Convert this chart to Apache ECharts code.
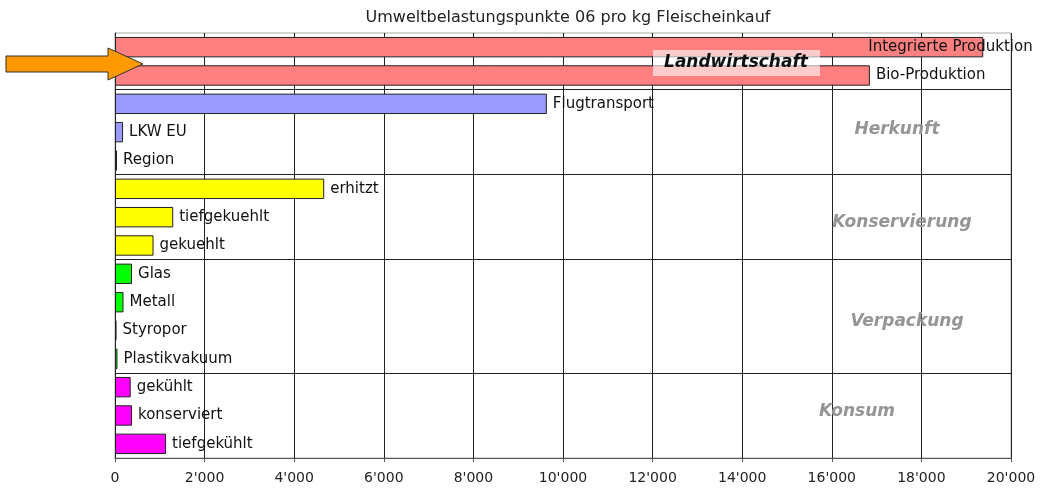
<!DOCTYPE html>
<html>
<head>
<meta charset="utf-8">
<script src="https://cdn.jsdelivr.net/npm/echarts@6/dist/echarts.min.js"></script>
<style>
  html, body { margin: 0; padding: 0; background: #fff; }
  #chart { width: 1042px; height: 489px; }
</style>
</head>
<body>
<div id="chart"></div>
<script>
// Kategorien (oben nach unten)
const categories = [
  'Integrierte Produktion', 'Bio-Produktion',
  'Flugtransport', 'LKW EU', 'Region',
  'erhitzt', 'tiefgekuehlt', 'gekuehlt',
  'Glas', 'Metall', 'Styropor', 'Plastikvakuum',
  'gekühlt', 'konserviert', 'tiefgekühlt'
];
// Umweltbelastungspunkte pro kg
const values = [
  19380, 16850,
  9640, 180, 45,
  4670, 1300, 860,
  380, 190, 35, 55,
  350, 380, 1140
];
// Gruppe je Kategorie
const groups = [
  'Landwirtschaft', 'Landwirtschaft',
  'Herkunft', 'Herkunft', 'Herkunft',
  'Konservierung', 'Konservierung', 'Konservierung',
  'Verpackung', 'Verpackung', 'Verpackung', 'Verpackung',
  'Konsum', 'Konsum', 'Konsum'
];
const xTicks = [0, 2000, 4000, 6000, 8000, 10000, 12000, 14000, 16000, 18000, 20000];

const groupColors = {
  Landwirtschaft: '#FF8080',
  Herkunft: '#9999FF',
  Konservierung: '#FFFF00',
  Verpackung: '#00FF00',
  Konsum: '#FF00FF'
};

// Trennlinien vor dem ersten Eintrag jeder Gruppe (ausser der ersten)
const groupStarts = [];
for (let i = 1; i < groups.length; i++) {
  if (groups[i] !== groups[i - 1]) groupStarts.push(i);
}

const FONT = '"DejaVu Sans", "Liberation Sans", sans-serif';

const chart = echarts.init(document.getElementById('chart'));

const barData = values.map((v, i) => {
  const item = {
    value: v,
    itemStyle: { color: groupColors[groups[i]] }
  };
  // Beschriftung des längsten Balkens wird ins Diagramm zurückgeschoben
  if (i === 0) {
    item.label = { offset: [-121, 0] };
  }
  return item;
});

const groupLabel = (text, x, y) => ({
  type: 'text',
  x: x,
  y: y,
  z: 100,
  style: {
    text: text,
    fill: '#959595',
    font: 'italic bold 17px ' + FONT,
    align: 'center',
    verticalAlign: 'middle'
  }
});

const option = {
  backgroundColor: '#fff',
  animation: false,
  title: {
    text: 'Umweltbelastungspunkte 06 pro kg Fleischeinkauf',
    left: 563,
    textAlign: 'center',
    top: 5,
    textStyle: {
      fontFamily: FONT,
      fontSize: 16,
      fontWeight: 'normal',
      color: '#222'
    }
  },
  grid: {
    left: 115,
    right: 31,
    top: 33,
    bottom: 31,
    show: true,
    borderColor: '#aaa',
    borderWidth: 1
  },
  xAxis: {
    type: 'value',
    min: xTicks[0],
    max: xTicks[xTicks.length - 1],
    interval: 2000,
    axisLine: { show: true, lineStyle: { color: '#555', width: 1 } },
    axisTick: { show: true, length: 4, lineStyle: { color: '#555' } },
    splitLine: { show: true, lineStyle: { color: '#222', width: 1 } },
    axisLabel: {
      fontFamily: FONT,
      fontSize: 14,
      color: '#222',
      margin: 13,
      formatter: v => String(v).replace(/\B(?=(\d{3})+(?!\d))/g, "'")
    }
  },
  yAxis: {
    type: 'category',
    inverse: true,
    data: categories,
    axisLine: { show: true, lineStyle: { color: '#222', width: 1 } },
    axisTick: { show: false },
    axisLabel: { show: false },
    splitLine: {
      show: true,
      interval: (index) => groupStarts.indexOf(index) !== -1,
      lineStyle: { color: '#222', width: 1 }
    }
  },
  series: [{
    type: 'bar',
    data: barData,
    barCategoryGap: '28%',
    itemStyle: { borderColor: '#222', borderWidth: 1 },
    label: {
      show: true,
      position: 'right',
      distance: 6,
      formatter: p => p.name,
      fontFamily: FONT,
      fontSize: 15,
      color: '#111'
    }
  }],
  graphic: [
    // Pfeil links
    {
      type: 'polygon',
      z: 100,
      shape: {
        points: [[6, 56], [108, 56], [108, 48], [143, 64], [108, 80], [108, 72], [6, 72]]
      },
      style: { fill: '#FF9900', stroke: '#333', lineWidth: 1 }
    },
    // Landwirtschaft-Kasten
    {
      type: 'rect',
      z: 100,
      shape: { x: 653, y: 50, width: 167, height: 26 },
      style: { fill: 'rgba(255,255,255,0.6)' }
    },
    {
      type: 'text',
      x: 736,
      y: 63,
      z: 101,
      style: {
        text: 'Landwirtschaft',
        fill: '#111',
        font: 'italic bold 17px ' + FONT,
        align: 'center',
        verticalAlign: 'middle'
      }
    },
    groupLabel('Herkunft', 897, 130),
    groupLabel('Konservierung', 902, 223),
    groupLabel('Verpackung', 907, 322),
    groupLabel('Konsum', 857, 412)
  ]
};

chart.setOption(option);
</script>
</body>
</html>
